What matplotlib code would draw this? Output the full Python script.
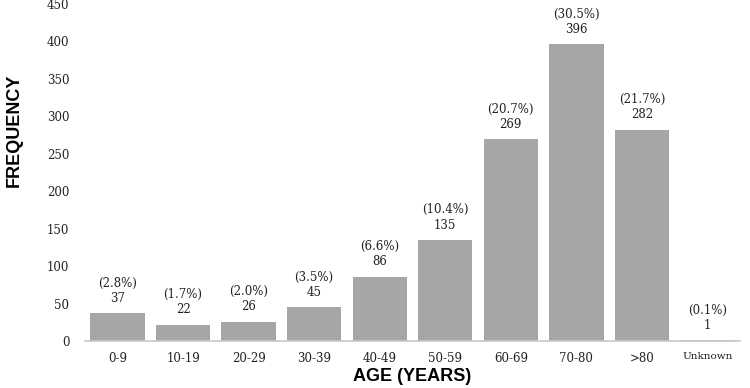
import matplotlib
matplotlib.use("Agg")
from matplotlib import pyplot as plt

age_groups = ["0-9", "10-19", "20-29", "30-39", "40-49", "50-59",
              "60-69", "70-80", ">80", "Unknown"]
counts = [37, 22, 26, 45, 86, 135, 269, 396, 282, 1]
percents = ["2.8%", "1.7%", "2.0%", "3.5%", "6.6%", "10.4%",
            "20.7%", "30.5%", "21.7%", "0.1%"]
y_ticks = [0, 50, 100, 150, 200, 250, 300, 350, 400, 450]

serif = "DejaVu Serif"
bar_color = "#a6a6a6"

fig = plt.figure(figsize=(7.5, 3.88), dpi=100)
ax = fig.add_axes([0.113, 0.121, 0.874, 0.869])

x = list(range(len(age_groups)))
ax.bar(x, counts, width=0.83, color=bar_color)

for xi, c, p in zip(x, counts, percents):
    ax.annotate("(%s)\n%d" % (p, c), (xi, c), xytext=(0, 6),
                textcoords="offset points", ha="center", va="bottom",
                fontsize=8.5, family=serif, color="#222222", linespacing=1.25)

ax.set_xlim(-0.5, len(age_groups) - 0.5)
ax.set_ylim(0, 450)
ax.set_yticks(y_ticks)
ax.set_yticklabels([str(t) for t in y_ticks], family=serif, fontsize=8.5)
ax.set_xticks(x)
ax.set_xticklabels(age_groups, family=serif, fontsize=8.5)
ax.get_xticklabels()[-1].set_fontsize(7.5)

ax.tick_params(axis="both", length=0, colors="#222222")
ax.tick_params(axis="x", pad=8)
ax.tick_params(axis="y", pad=11)

for side in ["top", "right", "left"]:
    ax.spines[side].set_visible(False)
ax.spines["bottom"].set_color("#c8c8c8")
ax.spines["bottom"].set_linewidth(1.2)

ax.set_xlabel("AGE (YEARS)", family="Liberation Sans", fontweight="bold",
              fontsize=13, labelpad=2)
ax.set_ylabel("FREQUENCY", family="Liberation Sans", fontweight="bold",
              fontsize=13)
ax.yaxis.set_label_coords(-0.094, 0.626)

fig.savefig("out.png", dpi=100)
